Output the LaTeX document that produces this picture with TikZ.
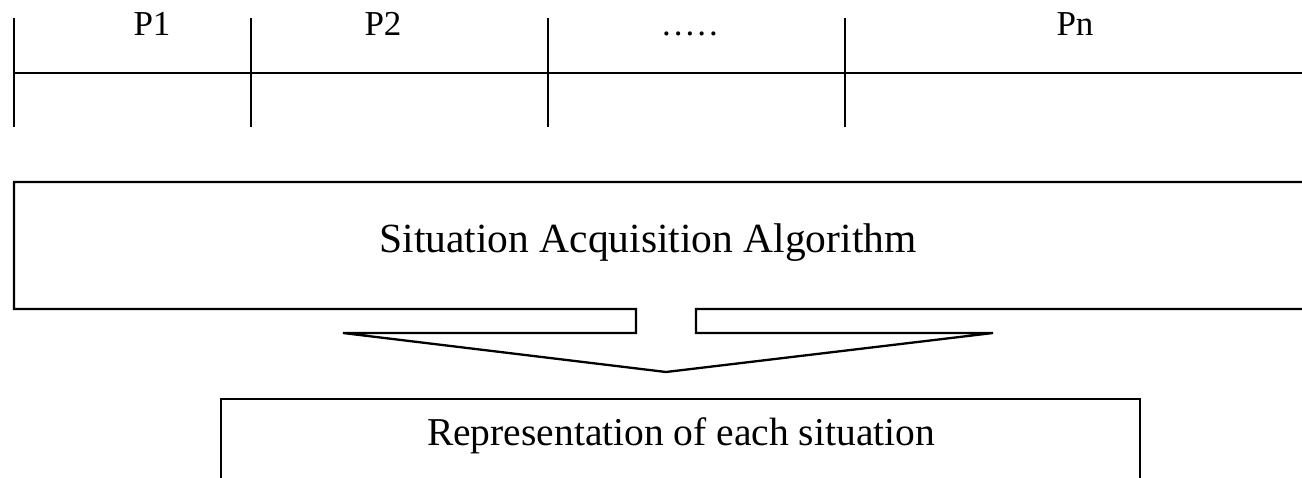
\documentclass[tikz,border=0pt]{standalone}
\usepackage{fontspec}
\setmainfont{Liberation Serif}
\begin{document}
\begin{tikzpicture}[x=1pt,y=-1pt,
  ln/.style={line width=2.3pt,line join=miter},
  lbl/.style={anchor=base,inner sep=0pt,font=\fontsize{35}{42}\selectfont},
  btxt/.style={inner sep=0pt,font=\fontsize{40}{48}\selectfont}]
\clip (0,0) rectangle (1302,478);
\fill[white] (0,0) rectangle (1302,478);
% timeline
\coordinate (tl) at (14,73);
\coordinate (tr) at (1310,73);
\draw[ln] (tl) -- (tr);
\foreach \x/\n in {14/a,251/b,548/c,845/d}{
  \coordinate (t\n1) at (\x,18);
  \coordinate (t\n2) at (\x,127);
  \draw[ln] (t\n1) -- (t\n2);
}
\node[lbl] (p1) at (152,36) {P1};
\node[lbl] (p2) at (383,36) {P2};
\node[lbl] (pd) at (690,36) {.\kern3pt.\kern3pt.\kern3pt.\kern3pt.};
\node[lbl] (pn) at (1075,36) {Pn};
% algorithm box
\draw[ln] (1310,182) -- (14,182) -- (14,309) -- (636,309) -- (636,333) -- (343,333)
  -- (666,372) -- (993,333) -- (696,333) -- (696,309) -- (1310,309);
\node[btxt,font=\fontsize{41.5}{50}\selectfont] (alg) at (648,243) {Situation Acquisition Algorithm};
% representation box
\draw[ln] (221,490) -- (221,399) -- (1140,399) -- (1140,490);
\node[btxt,font=\fontsize{39.5}{47}\selectfont] (rep) at (681,436) {Representation of each situation};
\end{tikzpicture}
\end{document}
